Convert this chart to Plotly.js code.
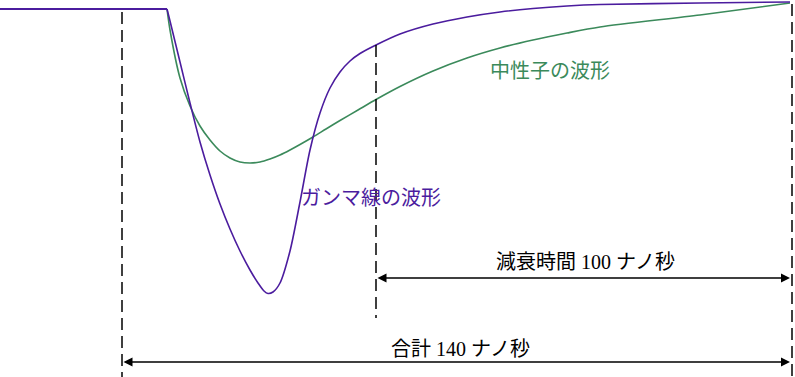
<!DOCTYPE html>
<html>
<head>
<meta charset="utf-8">
<script src="https://cdn.plot.ly/plotly-3.0.1.min.js"></script>
<style>html,body{margin:0;padding:0;background:#fff;}#chart{width:795px;height:377px;}</style>
</head>
<body>
<div id="chart"></div>
<script>
// schematic time units (left edge = 0); signal level: baseline 0, pulse negative
const baseT = [0, 167];
const baseV = [0, 0];
const gammaT = [167, 170, 180, 190, 200, 210, 220, 230, 240, 250, 258, 264, 268, 273, 280, 290, 300, 310, 320, 330, 340, 350, 360, 376, 400, 433, 467, 500, 533, 567, 600, 700, 790];
const gammaV = [0, -12, -53, -94, -133, -166, -195, -220, -242, -261, -274, -282, -284.5, -283, -274, -242, -193, -141, -104, -79, -63, -52, -44.5, -36, -25, -15, -8, -3, 0.5, 3, 4.5, 6, 7];
const neutronT = [167, 170, 180, 190, 200, 210, 220, 230, 240, 250, 260, 270, 280, 290, 300, 313, 326, 340, 358, 376, 400, 433, 467, 500, 533, 567, 600, 700, 790];
const neutronV = [0, -21, -69, -97, -117, -131, -142, -149, -153, -154, -153, -150, -146, -141, -135.5, -128, -120, -111.5, -101, -90.5, -77.5, -62, -49, -39, -31, -24, -18, -6, 6];

const tStart = 122, tDecay = 376, tEnd = 790;
const labelGamma = 'ガンマ線の波形';
const labelNeutron = '中性子の波形';
const labelDecay = '減衰時間 100 ナノ秒';
const labelTotal = '合計 140 ナノ秒';

const purple = '#4b1c9e';
const green = '#3b8a5b';
const font = '"Liberation Serif", "Noto Sans CJK JP", serif';

const traces = [
  {x: neutronT, y: neutronV, mode: 'lines', line: {color: green, width: 1.6, shape: 'spline', smoothing: 0.8}, hoverinfo: 'skip'},
  {x: baseT, y: baseV, mode: 'lines', line: {color: purple, width: 1.8}, hoverinfo: 'skip'},
  {x: gammaT, y: gammaV, mode: 'lines', line: {color: purple, width: 1.6, shape: 'spline', smoothing: 0.8}, hoverinfo: 'skip'}
];

const dash = '12px,6px';
const layout = {
  width: 795, height: 377,
  margin: {l: 0, r: 0, t: 0, b: 0},
  paper_bgcolor: '#fff', plot_bgcolor: '#fff',
  showlegend: false,
  xaxis: {range: [0, 795], visible: false, fixedrange: true},
  yaxis: {range: [-368, 9], visible: false, fixedrange: true},
  shapes: [
    {type: 'line', x0: tStart, x1: tStart, y0: -3, y1: -368, line: {color: '#000', width: 1.5, dash: dash}},
    {type: 'line', x0: tDecay, x1: tDecay, y0: -36, y1: -309, line: {color: '#000', width: 1.5, dash: dash}},
    {type: 'line', x0: tEnd + 2, x1: tEnd + 2, y0: 5, y1: -368, line: {color: '#000', width: 1.5, dash: dash}}
  ],
  annotations: [
    {x: tEnd, y: -269, ax: tDecay, ay: -269, axref: 'x', ayref: 'y', xref: 'x', yref: 'y', text: '', showarrow: true,
     arrowhead: 2, startarrowhead: 2, arrowside: 'end+start', arrowsize: 1.2, arrowwidth: 1.5, arrowcolor: '#000'},
    {x: tEnd, y: -353, ax: tStart, ay: -353, axref: 'x', ayref: 'y', xref: 'x', yref: 'y', text: '', showarrow: true,
     arrowhead: 2, startarrowhead: 2, arrowside: 'end+start', arrowsize: 1.2, arrowwidth: 1.5, arrowcolor: '#000'},
    {x: 585, y: -253, xref: 'x', yref: 'y', text: labelDecay, showarrow: false, font: {family: font, size: 20, color: '#000'}},
    {x: 460, y: -340, xref: 'x', yref: 'y', text: labelTotal, showarrow: false, font: {family: font, size: 20, color: '#000'}},
    {x: 371, y: -189, xref: 'x', yref: 'y', text: labelGamma, showarrow: false, font: {family: font, size: 20, color: purple}},
    {x: 550, y: -62, xref: 'x', yref: 'y', text: labelNeutron, showarrow: false, font: {family: font, size: 20, color: green}}
  ]
};

Plotly.newPlot('chart', traces, layout, {staticPlot: true, displayModeBar: false});
</script>
</body>
</html>
